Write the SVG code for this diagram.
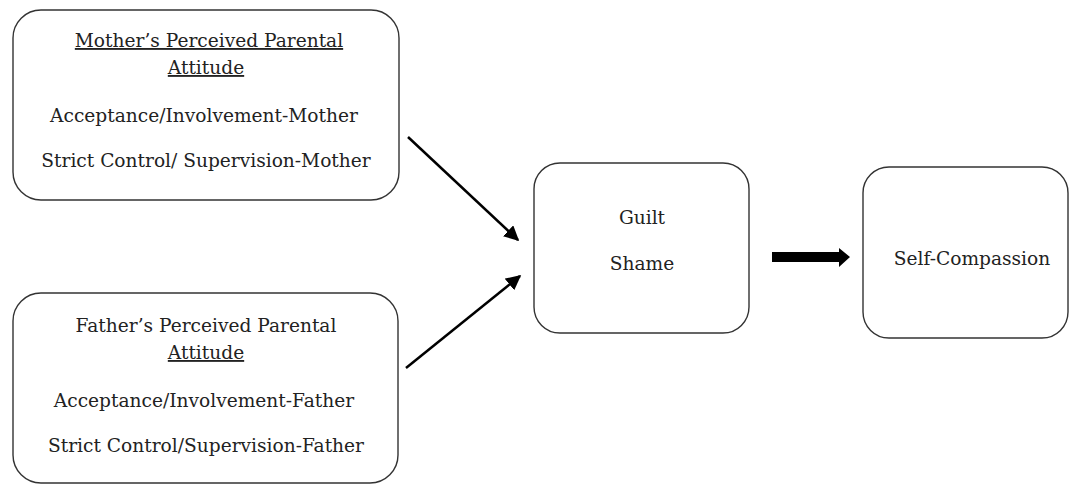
<svg xmlns="http://www.w3.org/2000/svg" width="1070" height="487" viewBox="0 0 1070 487">
<style>
.box{fill:#fff;stroke:#333;stroke-width:1.4}
.t{font-family:"DejaVu Serif","Liberation Serif",serif;font-size:18.6px;fill:#222;text-anchor:middle}
.u{text-decoration:underline}
.c{stroke:#000;stroke-width:2.5;fill:none}
</style>
<defs>
<marker id="ah" viewBox="0 0 10 10" refX="9" refY="5" markerWidth="6" markerHeight="6" markerUnits="strokeWidth" orient="auto">
<path d="M0,0 L10,5 L0,10 Z" fill="#000"/>
</marker>
</defs>
<rect width="1070" height="487" fill="#fff"/>
<g id="mother">
<rect class="box" x="13" y="10" width="386" height="190" rx="28" ry="28"/>
<text class="t u" x="209" y="47">Mother’s Perceived Parental</text>
<text class="t u" x="206" y="74">Attitude</text>
<text class="t" x="204" y="122">Acceptance/Involvement-Mother</text>
<text class="t" x="206" y="167">Strict Control/ Supervision-Mother</text>
</g>
<g id="father">
<rect class="box" x="13" y="293" width="385" height="190" rx="28" ry="28"/>
<text class="t" x="206" y="332">Father’s Perceived Parental</text>
<text class="t u" x="206" y="359">Attitude</text>
<text class="t" x="204" y="407">Acceptance/Involvement-Father</text>
<text class="t" x="206" y="452">Strict Control/Supervision-Father</text>
</g>
<g id="guilt">
<rect class="box" x="534" y="163" width="215" height="170" rx="26" ry="26"/>
<text class="t" x="642" y="224">Guilt</text>
<text class="t" x="642" y="270">Shame</text>
</g>
<g id="selfcompassion">
<rect class="box" x="863" y="167" width="205" height="171" rx="26" ry="26"/>
<text class="t" x="972" y="265">Self-Compassion</text>
</g>
<g id="connectors">
<line class="c" x1="408" y1="137" x2="518" y2="240" marker-end="url(#ah)"/>
<line class="c" x1="406" y1="368" x2="520" y2="276" marker-end="url(#ah)"/>
<polygon points="772,252 839,252 839,248 850,257 839,267 839,262 772,262" fill="#000"/>
</g>
</svg>
